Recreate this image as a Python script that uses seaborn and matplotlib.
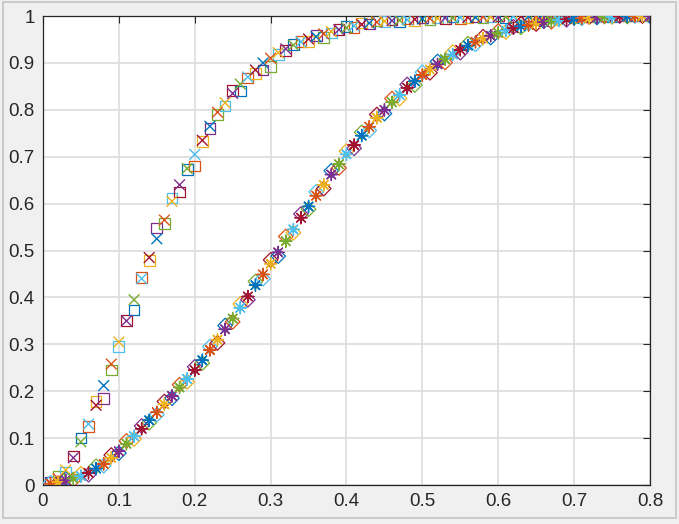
import matplotlib
matplotlib.use('Agg')
import matplotlib.pyplot as plt
import seaborn as sns
import pandas as pd
from matplotlib.patches import Rectangle

# sample positions (same grid for every marker group)
xs = [0.01, 0.02, 0.03, 0.04, 0.05, 0.06, 0.07, 0.08, 0.09, 0.10,
      0.11, 0.12, 0.13, 0.14, 0.15, 0.16, 0.17, 0.18, 0.19, 0.20,
      0.21, 0.22, 0.23, 0.24, 0.25, 0.26, 0.27, 0.28, 0.29, 0.30,
      0.31, 0.32, 0.33, 0.34, 0.35, 0.36, 0.37, 0.38, 0.39, 0.40,
      0.41, 0.42, 0.43, 0.44, 0.45, 0.46, 0.47, 0.48, 0.49, 0.50,
      0.51, 0.52, 0.53, 0.54, 0.55, 0.56, 0.57, 0.58, 0.59, 0.60,
      0.61, 0.62, 0.63, 0.64, 0.65, 0.66, 0.67, 0.68, 0.69, 0.70,
      0.71, 0.72, 0.73, 0.74, 0.75, 0.76, 0.77, 0.78, 0.79, 0.80]

# fast curve, 'x' markers
fast_x = [0.004, 0.014, 0.032, 0.058, 0.092, 0.130, 0.170, 0.212, 0.258, 0.305,
          0.350, 0.395, 0.440, 0.485, 0.525, 0.565, 0.605, 0.640, 0.675, 0.705,
          0.735, 0.765, 0.795, 0.815, 0.835, 0.855, 0.870, 0.885, 0.900, 0.910,
          0.922, 0.930, 0.938, 0.945, 0.951, 0.956, 0.962, 0.967, 0.971, 0.975,
          0.979, 0.982, 0.985, 0.987, 0.989, 0.990, 0.991, 0.992, 0.993, 0.994,
          0.995, 0.995, 0.996, 0.996, 0.997, 0.997, 0.997, 0.998, 0.998, 0.998,
          0.998, 0.999, 0.999, 0.999, 0.999, 0.999, 0.999, 0.999, 0.999, 0.999,
          1.000, 1.000, 1.000, 1.000, 1.000, 1.000, 1.000, 1.000, 1.000, 1.000]

# fast curve, square markers
fast_s = [0.006, 0.018, 0.028, 0.062, 0.100, 0.125, 0.178, 0.185, 0.245, 0.295,
          0.350, 0.373, 0.443, 0.478, 0.548, 0.558, 0.612, 0.625, 0.672, 0.680,
          0.732, 0.760, 0.790, 0.808, 0.842, 0.840, 0.868, 0.878, 0.885, 0.892,
          0.918, 0.926, 0.940, 0.946, 0.945, 0.958, 0.955, 0.964, 0.972, 0.978,
          0.976, 0.985, 0.983, 0.990, 0.988, 0.992, 0.989, 0.994, 0.991, 0.996,
          0.993, 0.997, 0.994, 0.998, 0.995, 0.997, 0.999, 0.996, 0.998, 1.000,
          0.997, 0.999, 0.998, 1.000, 0.999, 0.998, 1.000, 0.999, 1.000, 0.999,
          1.000, 0.999, 1.000, 1.000, 0.999, 1.000, 1.000, 1.000, 1.000, 1.000]

# slow curve, asterisk markers
slow_a = [0.003, 0.006, 0.010, 0.014, 0.019, 0.026, 0.035, 0.045, 0.058, 0.072,
          0.088, 0.104, 0.120, 0.138, 0.155, 0.172, 0.190, 0.208, 0.226, 0.245,
          0.266, 0.288, 0.310, 0.332, 0.355, 0.378, 0.402, 0.426, 0.449, 0.472,
          0.496, 0.520, 0.545, 0.570, 0.594, 0.617, 0.640, 0.662, 0.684, 0.705,
          0.725, 0.745, 0.764, 0.783, 0.800, 0.816, 0.832, 0.847, 0.861, 0.874,
          0.886, 0.897, 0.908, 0.918, 0.928, 0.937, 0.945, 0.952, 0.958, 0.964,
          0.969, 0.974, 0.978, 0.981, 0.984, 0.987, 0.989, 0.991, 0.993, 0.994,
          0.995, 0.996, 0.997, 0.998, 0.998, 0.999, 0.999, 1.000, 1.000, 1.000]

# slow curve, diamond markers
slow_d = [0.005, 0.004, 0.013, 0.011, 0.024, 0.022, 0.040, 0.041, 0.064, 0.068,
          0.094, 0.098, 0.126, 0.133, 0.150, 0.178, 0.185, 0.214, 0.220, 0.252,
          0.260, 0.295, 0.303, 0.340, 0.348, 0.386, 0.395, 0.434, 0.440, 0.480,
          0.488, 0.530, 0.538, 0.578, 0.588, 0.625, 0.632, 0.670, 0.676, 0.712,
          0.718, 0.752, 0.756, 0.790, 0.792, 0.824, 0.824, 0.854, 0.853, 0.880,
          0.879, 0.903, 0.901, 0.923, 0.922, 0.941, 0.940, 0.956, 0.954, 0.968,
          0.966, 0.977, 0.976, 0.984, 0.983, 0.989, 0.988, 0.993, 0.992, 0.996,
          0.995, 0.998, 0.997, 0.999, 0.998, 1.000, 0.999, 1.000, 1.000, 1.000]

xticks = [0, 0.1, 0.2, 0.3, 0.4, 0.5, 0.6, 0.7, 0.8]
xtick_labels = ['0', '0.1', '0.2', '0.3', '0.4', '0.5', '0.6', '0.7', '0.8']
yticks = [0, 0.1, 0.2, 0.3, 0.4, 0.5, 0.6, 0.7, 0.8, 0.9, 1]
ytick_labels = ['0', '0.1', '0.2', '0.3', '0.4', '0.5', '0.6', '0.7', '0.8', '0.9', '1']

matlab_colors = ['#0072BD', '#D95319', '#EDB120', '#7E2F8E',
                 '#77AC30', '#4DBEEE', '#A2142F']

sns.set_style('white')
plt.rcParams['font.family'] = ['Liberation Sans', 'DejaVu Sans']

fig = plt.figure(figsize=(6.79, 5.24), dpi=100, facecolor='#f0f0f0')
ax = fig.add_axes([0.0633, 0.0744, 0.894, 0.895])
ax.set_facecolor('white')


def groups(yvals, shift):
    # each point gets the next colour of the cycle
    return pd.DataFrame({'x': xs, 'y': yvals,
                         'c': [(i + shift) % 7 for i in range(len(xs))]})


# hollow markers: squares and diamonds
for yvals, mk, size, shift in [(fast_s, 's', 60, 3), (slow_d, 'D', 55, 5)]:
    sns.scatterplot(data=groups(yvals, shift), x='x', y='y', hue='c',
                    palette=matlab_colors, marker=mk, s=size,
                    legend=False, ax=ax, zorder=3)
    coll = ax.collections[-1]
    coll.set_edgecolors(coll.get_facecolors())
    coll.set_facecolors('none')
    coll.set_linewidth(0.9)

# line markers: crosses and asterisks
for yvals, mk, size, shift in [(fast_x, 'x', 60, 0), (slow_a, (8, 2, 0), 75, 1)]:
    sns.scatterplot(data=groups(yvals, shift), x='x', y='y', hue='c',
                    palette=matlab_colors, marker=mk, s=size, linewidth=1.0,
                    legend=False, ax=ax, zorder=4)

ax.set_xlim(0, 0.8)
ax.set_ylim(0, 1)
ax.set_xticks(xticks)
ax.set_xticklabels(xtick_labels)
ax.set_yticks(yticks)
ax.set_yticklabels(ytick_labels)
ax.set_xlabel('')
ax.set_ylabel('')

ax.grid(True, color='#dedede', linewidth=1.3)
ax.set_axisbelow(True)
ax.tick_params(direction='in', top=True, right=True, length=5, width=0.8,
               color='#262626', labelsize=13.5, labelcolor='#262626', pad=6)
for sp in ax.spines.values():
    sp.set_color('#262626')
    sp.set_linewidth(0.9)

fig.patches.append(Rectangle((0.004, 0.012), 0.992, 0.984, transform=fig.transFigure,
                             fill=False, edgecolor='#c4c4c4', linewidth=1.2))

fig.savefig('out.png', dpi=100, facecolor=fig.get_facecolor())
